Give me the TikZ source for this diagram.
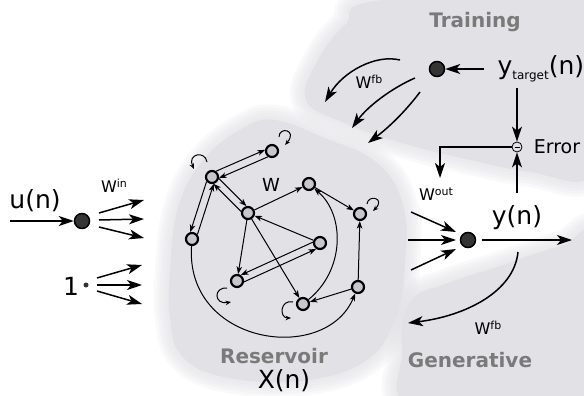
\documentclass[tikz,border=0pt]{standalone}
\usepackage{fontspec}
\setmainfont{DejaVu Sans}
\usetikzlibrary{arrows.meta,calc}
\definecolor{bg}{RGB}{226,226,230}
\definecolor{lab}{RGB}{122,122,122}
\definecolor{dark}{RGB}{52,52,52}
\definecolor{resfill}{RGB}{200,200,204}
\newcommand\blobdraw[1]{%
  \foreach \w in {30,24,18,12,6} {\draw[halo,line width=\w pt] plot[smooth cycle,tension=0.7] coordinates {#1};}
  \fill[bg] plot[smooth cycle,tension=0.7] coordinates {#1};}
\newcommand\supx[1]{\raisebox{5pt}{\fontsize{11}{12}\selectfont #1}}
\begin{document}
\begin{tikzpicture}[x=1pt,y=-1pt,
 res/.style={circle,draw=black,line width=2.2pt,fill=resfill,minimum size=12pt,inner sep=0pt},
 unit/.style={circle,draw=black,line width=1.5pt,fill=dark,minimum size=15pt,inner sep=0pt},
 sarr/.style={-{Stealth[length=7.5pt,width=5.5pt,inset=2pt]},line width=1pt},
 barr/.style={-{Stealth[length=15pt,width=10pt,inset=4pt]},line width=1.5pt},
 lp/.style={-{Stealth[length=5.5pt,width=4.5pt]},line width=1pt},
 big/.style={font=\fontsize{25}{28}\selectfont},
 wlab/.style={font=\fontsize{16}{18}\selectfont},
 ttl/.style={font=\bfseries\fontsize{20}{23}\selectfont,text=lab},
 halo/.style={draw=bg,opacity=0.18},
]
\useasboundingbox (0,0) rectangle (584,396);
\clip (0,0) rectangle (584,396);
\fill[white] (0,0) rectangle (584,396);
% background blobs
\blobdraw{(170,270) (178,208) (203,160) (243,128) (275,120) (322,137) (376,162) (403,205) (405,265) (395,320) (364,362) (300,381) (224,377) (182,356) (170,318)}
\blobdraw{(306,100) (318,60) (345,25) (382,0) (600,-10) (610,100) (592,176) (530,172) (470,160) (402,143) (342,122)}
\blobdraw{(410,302) (445,284) (500,266) (560,246) (600,240) (610,400) (420,410) (402,350)}

% reservoir nodes
\node[res] (n1) at (272,151) {};
\node[res] (n2) at (212,177) {};
\node[res] (n3) at (192,239) {};
\node[res] (n4) at (248,213) {};
\node[res] (n5) at (309,184) {};
\node[res] (n6) at (360,214) {};
\node[res] (n7) at (320,243) {};
\node[res] (n8) at (237,281) {};
\node[res] (n9) at (303,304) {};
\node[res] (n10) at (358,287) {};
\node[font=\fontsize{18}{20}\selectfont] (wres) at (271,185) {W};

% paired edges
\draw[sarr] (n2.55) -- (n1.171);
\draw[sarr] (n1.235) -- (n2.351);
\draw[sarr] (n2.220) -- (n3.104);
\draw[sarr] (n3.40) -- (n2.284);
\draw[sarr] (n2.347) -- (n4.103);
\draw[sarr] (n4.167) -- (n2.283);
\draw[sarr] (n8.-7) -- (n7.237);
\draw[sarr] (n7.173) -- (n8.57);
% single edges
\draw[sarr] (n4) -- (n5);
\draw[sarr] (n5) -- (n6);
\draw[sarr] (n10) -- (n6);
\draw[sarr] (n10) -- (n9);
\draw[sarr] (n7) -- (n4);
\draw[sarr] (n4) -- (n8);
\draw[sarr] (n4) -- (n9);
\draw[sarr] (n9) .. controls (345,270) and (345,215) .. (n5);
\draw[sarr] (n3) .. controls (185,345) and (325,365) .. (n10);
% self loops
\draw[lp] (279,137) .. controls (279,126) and (298,130) .. (285,145);
\draw[lp] (207,162) .. controls (205,150) and (187,154) .. (194,169);
\draw[lp] (367,204) .. controls (368,194) and (386,198) .. (373,211);
\draw[lp] (227,288) .. controls (213,287) and (214,305) .. (231,302);
\draw[lp] (293,302) .. controls (280,299) and (279,318) .. (291,318);

% input
\node[unit] (u) at (82,221) {};
\coordinate (uin) at (10,221);
\draw[barr] (uin) -- (u);
\node[big] (ulab) at (35,201) {u(n)};
\node[wlab] (win) at (114,186) {W\supx{in}};
\coordinate (fa1) at (99,213); \coordinate (fb1) at (144,200);
\coordinate (fa2) at (99,220); \coordinate (fb2) at (144,219);
\coordinate (fa3) at (99,227); \coordinate (fb3) at (144,238);
\draw[barr] (fa1) -- (fb1);
\draw[barr] (fa2) -- (fb2);
\draw[barr] (fa3) -- (fb3);
\node[big] (one) at (71,286) {1};
\node[circle,fill=dark,minimum size=5pt,inner sep=0pt] (bias) at (86,285) {};
\coordinate (ga1) at (97,278); \coordinate (gb1) at (142,265);
\coordinate (ga2) at (97,285); \coordinate (gb2) at (142,285);
\coordinate (ga3) at (97,291); \coordinate (gb3) at (142,304);
\draw[barr] (ga1) -- (gb1);
\draw[barr] (ga2) -- (gb2);
\draw[barr] (ga3) -- (gb3);

% training
\node[ttl] (train) at (475,22) {Training};
\node[unit] (t) at (437,69) {};
\node[big,anchor=west] (yt) at (494,69) {y\raisebox{-5pt}{\fontsize{12}{13}\selectfont target}(n)};
\coordinate (ytl) at (484,69);
\draw[barr] (ytl) -- (t);
\node[circle,draw=black,line width=0.8pt,minimum size=10pt,inner sep=0pt] (minus) at (517,147) {};
\draw[line width=0.8pt] ([xshift=-2.5pt]minus.center) -- ([xshift=2.5pt]minus.center);
\node[font=\fontsize{19}{22}\selectfont] (err) at (557,147) {Error};
\coordinate (ytd) at (517,88);
\draw[barr] (ytd) -- (minus);
\coordinate (yup) at (517,193);
\draw[barr] (yup) -- (minus);
\coordinate (wo) at (440,178);
\draw[barr] (minus) -| (wo);
\node[wlab] (wout) at (436,194) {W\supx{out}};
\node[wlab] (wfb1) at (369,82) {W\supx{fb}};
\coordinate (c1s) at (400,60); \coordinate (c1e) at (325,102);
\coordinate (c2s) at (415,78); \coordinate (c2e) at (352,128);
\coordinate (c3s) at (420,92); \coordinate (c3e) at (368,143);
\draw[barr] (c1s) .. controls (375,54) and (343,72) .. (c1e);
\draw[barr] (c2s) .. controls (392,88) and (368,106) .. (c2e);
\draw[barr] (c3s) .. controls (405,112) and (388,128) .. (c3e);

% output
\node[unit] (y) at (468,240) {};
\coordinate (oa1) at (411,212); \coordinate (ob1) at (456,232);
\coordinate (oa2) at (408,240); \coordinate (ob2) at (456,240);
\coordinate (oa3) at (411,270); \coordinate (ob3) at (456,249);
\draw[barr] (oa1) -- (ob1);
\draw[barr] (oa2) -- (ob2);
\draw[barr] (oa3) -- (ob3);
\node[big] (ylab) at (517,218) {y(n)};
\coordinate (yend) at (572,240);
\draw[barr,shorten <=6pt] (y) -- (yend);
\coordinate (fbs) at (518,252); \coordinate (fbe) at (408,323);
\draw[barr] (fbs) .. controls (514,292) and (465,316) .. (fbe);
\node[wlab] (wfb2) at (488,328) {W\supx{fb}};
\node[ttl] (gen) at (470,360) {Generative};

% reservoir labels
\node[ttl] (resl) at (274,356) {Reservoir};
\node[big] (xl) at (284,381) {X(n)};
\end{tikzpicture}
\end{document}
